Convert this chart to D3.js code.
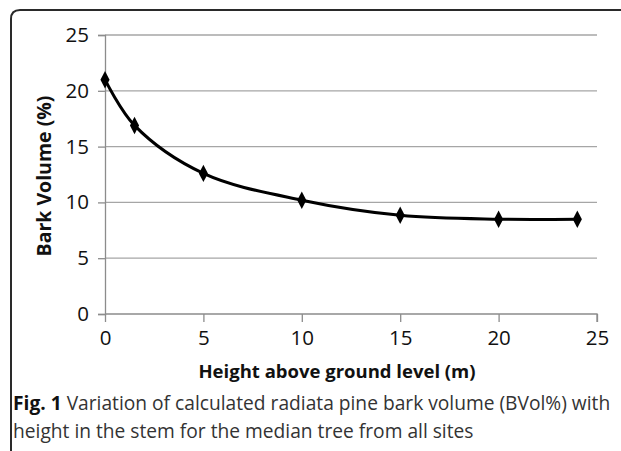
<!DOCTYPE html>
<html lang="en">
<head>
  <meta charset="UTF-8">
  <title>Bark volume vs height</title>
  <script src="https://d3js.org/d3.v7.min.js"></script>
  <style>
    body { margin: 0; background: #fff; }
    svg { display: block; }
    .tick text { font-family: "Open Sans", "Liberation Sans", sans-serif; }
  </style>
</head>
<body>
  <svg width="621" height="451"></svg>

  <script>
    // data
    const heights = [0, 1.5, 5, 10, 15, 20, 24];
    const barkVol = [21, 16.9, 12.6, 10.2, 8.85, 8.5, 8.5];
    const xTicks = [0, 5, 10, 15, 20, 25];
    const yTicks = [0, 5, 10, 15, 20, 25];

    const svg = d3.select('svg');

    // frame (rounded top-left corner, open on the right)
    svg.append('path')
      .attr('d', 'M11,451 L11,19 Q11,10 20,10 L621,10')
      .attr('fill', 'none')
      .attr('stroke', '#2a2a2a')
      .attr('stroke-width', 2);

    const x = d3.scaleLinear().domain([0, 25]).range([105, 597]);
    const y = d3.scaleLinear().domain([0, 25]).range([314, 35]);

    // horizontal gridlines
    svg.append('g')
      .selectAll('line')
      .data(yTicks.filter(d => d > 0))
      .join('line')
      .attr('x1', x(0)).attr('x2', x(25))
      .attr('y1', d => y(d)).attr('y2', d => y(d))
      .attr('stroke', '#a6a6a6').attr('stroke-width', 1.3);

    const yAxis = svg.append('g')
      .attr('transform', `translate(${x(0)},0)`)
      .call(d3.axisLeft(y).tickValues(yTicks).tickSize(7).tickPadding(9));
    const xAxis = svg.append('g')
      .attr('transform', `translate(0,${y(0)})`)
      .call(d3.axisBottom(x).tickValues(xTicks).tickSize(8).tickPadding(8));

    [xAxis, yAxis].forEach(g => {
      g.select('.domain').attr('stroke', '#8c8c8c').attr('stroke-width', 1.3);
      g.selectAll('.tick line').attr('stroke', '#8c8c8c').attr('stroke-width', 1.3);
      g.selectAll('.tick text').attr('font-size', 20.5).attr('fill', '#111');
    });
    xAxis.select('.domain').attr('d', `M${x(0)},0H${x(25)}V8`);

    // axis titles
    svg.append('text')
      .attr('x', 337).attr('y', 378)
      .attr('text-anchor', 'middle')
      .attr('font-family', 'Open Sans, Liberation Sans, sans-serif')
      .attr('font-weight', 'bold').attr('font-size', 18.5)
      .attr('fill', '#111')
      .text('Height above ground level (m)');

    svg.append('text')
      .attr('transform', 'translate(51,176) rotate(-90)')
      .attr('text-anchor', 'middle')
      .attr('font-family', 'Open Sans, Liberation Sans, sans-serif')
      .attr('font-weight', 'bold').attr('font-size', 19.5)
      .attr('fill', '#111')
      .text('Bark Volume (%)');

    // smoothed line
    const pts = heights.map((h, i) => [h, barkVol[i]]);
    const line = d3.line()
      .x(d => x(d[0]))
      .y(d => y(d[1]))
      .curve(d3.curveCatmullRom.alpha(0.5));

    svg.append('path')
      .datum(pts)
      .attr('d', line)
      .attr('fill', 'none')
      .attr('stroke', '#000')
      .attr('stroke-width', 3);

    svg.append('g')
      .selectAll('path')
      .data(pts)
      .join('path')
      .attr('transform', d => `translate(${x(d[0])},${y(d[1])}) scale(0.95,1.05)`)
      .attr('d', d3.symbol(d3.symbolDiamond, 80))
      .attr('fill', '#000');

    // caption
    const cap = svg.append('text')
      .attr('font-family', 'Open Sans, Liberation Sans, sans-serif')
      .attr('font-size', 19.2)
      .attr('fill', '#333');
    const l1 = cap.append('tspan').attr('x', 13).attr('y', 410);
    l1.append('tspan').attr('font-weight', 'bold').attr('fill', '#111').text('Fig. 1');
    l1.append('tspan').text(' Variation of calculated radiata pine bark volume (BVol%) with');
    cap.append('tspan').attr('x', 13).attr('y', 438)
      .text('height in the stem for the median tree from all sites');
  </script>
</body>
</html>
